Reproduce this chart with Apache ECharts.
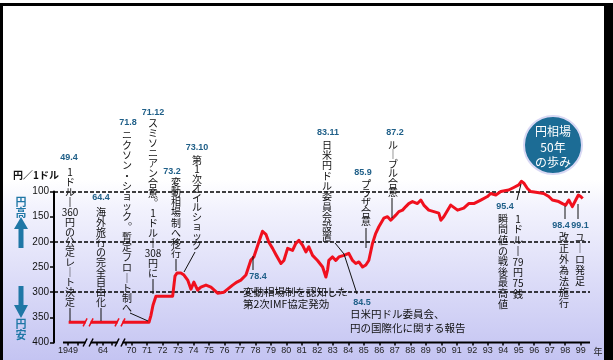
<!DOCTYPE html>
<html>
<head>
<meta charset="utf-8">
<script src="https://cdn.jsdelivr.net/npm/echarts@6/dist/echarts.min.js"></script>
<style>
html,body{margin:0;padding:0;background:#fff;}
#chart{width:613px;height:360px;}
</style>
</head>
<body>
<div id="chart"></div>
<script>
// Yen per dollar, 1949 - 1999 (decimal year, yen)
const rateYears = [
  1949.3, 1971.13, 1971.26, 1971.39, 1971.58, 1972.66, 1972.81, 1972.94, 1973.19, 1973.39,
  1973.63, 1973.84, 1974.03, 1974.27, 1974.48, 1974.81, 1975.13, 1975.56, 1975.97, 1976.29,
  1976.53, 1976.81, 1977.06, 1977.39, 1977.71, 1977.90, 1978.23, 1978.46, 1978.68, 1978.87,
  1979.11, 1979.32, 1979.65, 1979.84, 1980.08, 1980.40, 1980.61, 1980.81, 1981.05, 1981.26,
  1981.45, 1981.69, 1982.01, 1982.34, 1982.55, 1982.66, 1982.74, 1982.98, 1983.19, 1983.39,
  1983.71, 1984.03, 1984.27, 1984.48, 1984.68, 1984.92, 1985.13, 1985.32, 1985.56, 1985.77,
  1985.97, 1986.29, 1986.53, 1986.74, 1987.06, 1987.26, 1987.50, 1987.71, 1987.90, 1988.14,
  1988.46, 1988.68, 1988.87, 1989.19, 1989.52, 1989.84, 1989.97, 1990.16, 1990.61, 1991.05,
  1991.45, 1991.77, 1992.10, 1992.55, 1992.98, 1993.19, 1993.52, 1993.84, 1994.35, 1994.68,
  1995.00, 1995.17, 1995.32, 1995.56, 1995.77, 1996.21, 1996.61, 1996.94, 1997.17, 1997.58,
  1997.82, 1998.03, 1998.23, 1998.46, 1998.68, 1998.85, 1999.00, 1999.13
];
const rateValues = [
  360, 360, 346, 326, 308, 308, 268, 262, 262, 266,
  276, 294, 280, 296, 290, 286, 290, 302, 300, 292,
  286, 280, 276, 266, 236, 230, 200, 179, 185, 201,
  213, 225, 243, 237, 213, 217, 203, 197, 207, 220,
  210, 227, 237, 250, 270, 256, 237, 230, 237, 230,
  227, 223, 237, 243, 240, 250, 246, 237, 203, 183,
  170, 153, 150, 157, 147, 140, 137, 130, 124, 120,
  124, 117, 127, 137, 140, 143, 157, 150, 127, 137,
  133, 124, 124, 117, 110, 104, 107, 100, 97, 92,
  87, 79.75, 83, 94, 100, 102, 104, 110, 117, 120,
  124, 127, 117, 130, 117, 107, 110, 114
];

// x-axis ticks (years) and their labels
const tickYears = [1949, 1964, 1970, 1971, 1972, 1973, 1974, 1975, 1976, 1977, 1978, 1979, 1980,
  1981, 1982, 1983, 1984, 1985, 1986, 1987, 1988, 1989, 1990, 1991, 1992, 1993, 1994, 1995,
  1996, 1997, 1998, 1999];
const tickLabels = ['1949', '64', '70', '71', '72', '73', '74', '75', '76', '77', '78', '79', '80',
  '81', '82', '83', '84', '85', '86', '87', '88', '89', '90', '91', '92', '93', '94', '95',
  '96', '97', '98', '99'];
const guideLevels = [100, 200, 300];

// The years before 1970 are squeezed onto a short stretch of the axis.
function axisPos(year) {
  if (year >= 1970) return year - 1900;
  if (year >= 1964) return 68.17 + (year - 1964) * (70 - 68.17) / 6;
  return 65.9 + (year - 1949) * (68.17 - 65.9) / 15;
}
const breakPos = [67.2, 69.26];
const extraTickPos = [66.55, 67.75, 68.75, 69.65];

const tickPos = tickYears.map(axisPos);
const labelMap = {};
tickPos.forEach((p, i) => { labelMap[p.toFixed(2)] = tickLabels[i]; });

const JP = '"Noto Sans CJK JP", "Noto Sans", sans-serif';
const NUM = '"Liberation Sans Narrow", "Liberation Sans", Arial, sans-serif';
const BLUE = '#1f77a6';
const DATE = '#1f5f88';

const chart = echarts.init(document.getElementById('chart'), null, {renderer: 'canvas'});

chart.setOption({
  animation: false,
  grid: {left: 54, right: 23, top: 191.5, bottom: 17.5},
  xAxis: {
    type: 'value', min: 65, max: 99.6,
    axisLine: {show: false},
    splitLine: {show: false},
    axisTick: {show: true, customValues: tickPos.concat(extraTickPos), length: 3,
      lineStyle: {color: '#000', width: 1.5}},
    axisLabel: {customValues: tickPos, formatter: v => labelMap[(+v).toFixed(2)] || '',
      fontSize: 9, color: '#222', margin: 4, fontFamily: NUM}
  },
  yAxis: {
    type: 'value', inverse: true, min: 100, max: 400, interval: 50,
    axisLine: {show: true, lineStyle: {color: '#000', width: 2}},
    axisTick: {show: true, length: 4, lineStyle: {color: '#000', width: 1.5}},
    axisLabel: {fontSize: 10, color: '#111', margin: 5, fontFamily: NUM},
    splitLine: {show: false}
  },
  series: [{
    type: 'line',
    data: rateYears.map((y, i) => [axisPos(y), rateValues[i]]),
    symbol: 'none', clip: false, z: 5,
    lineStyle: {color: '#f0101e', width: 3, join: 'round'},
    markLine: {
      silent: true, symbol: ['none', 'none'], label: {show: false},
      lineStyle: {color: '#000', type: [4, 2], width: 1.5},
      data: guideLevels.map(v => ({yAxis: v}))
    }
  }]
});

// annotation layout (pixels)
const notes = [
  {date: '49.4', dx: 69, dy: 158, cols: [{x: 70, y: 172, step: 10,
    cells: ['1','ド','ル','‖','360','円','の','公','定','レ','｜','ト','決','定']}], leader: [70, 308, 70, 321]},
  {date: '64.4', dx: 101, dy: 198, cols: [{x: 101, y: 212, step: 10,
    cells: ['海','外','旅','行','の','完','全','自','由','化']}], leader: [101, 308, 101, 321]},
  {date: '71.8', dx: 128, dy: 123, cols: [{x: 127, y: 135, step: 10.2,
    cells: ['ニ','ク','ソ','ン','・','シ','ョ','ッ','ク','︒','暫','定','フ','ロ','｜','ト','制','へ']}], leader: [130, 313, 148, 321]},
  {date: '71.12', dx: 153, dy: 113, cols: [{x: 153, y: 123, step: 10,
    cells: ['ス','ミ','ソ','ニ','ア','ン','合','意','︒','1','ド','ル','‖','308','円','に']}], leader: [153, 279, 153, 294]},
  {date: '73.2', dx: 172, dy: 172, cols: [{x: 176, y: 182, step: 10.2,
    cells: ['変','動','相','場','制','へ','移','行']}], leader: [176, 259, 176, 271]},
  {date: '73.10', dx: 197, dy: 148, cols: [{x: 197, y: 160, step: 9.5,
    cells: ['第','1','次','オ','イ','ル','シ','ョ','ッ','ク']}], leader: [195, 252, 184, 272]},
  {date: '83.11', dx: 328, dy: 133, cols: [{x: 327, y: 145, step: 10.3,
    cells: ['日','米','円','ド','ル','委','員','会','設','置']}], leader: [335, 243, 344, 254]},
  {date: '85.9', dx: 363, dy: 173, cols: [{x: 366, y: 184, step: 9.3,
    cells: ['プ','ラ','ザ','合','意']}], leader: [366, 228, 366, 248]},
  {date: '87.2', dx: 395, dy: 133, cols: [{x: 393, y: 145, step: 9.5,
    cells: ['ル','｜','ブ','ル','合','意']}], leader: [392, 198, 392, 218]},
  {date: '95.4', dx: 505, dy: 207, cols: [
    {x: 503, y: 219, step: 10.6, cells: ['瞬','間','値','の','戦','後','最','高','値']},
    {x: 518, y: 219, step: 10.7, cells: ['1','ド','ル','‖','79','円','75','銭']}], leader: [517, 200, 521, 184]},
  {date: '98.4', dx: 561, dy: 226, cols: [{x: 564, y: 237, step: 11,
    cells: ['改','正','外','為','法','施','行']}], leader: [565, 206, 565, 219]},
  {date: '99.1', dx: 580, dy: 226, cols: [{x: 580, y: 237, step: 11,
    cells: ['ユ','｜','ロ','発','足']}], leader: [578, 204, 578, 219]}
];
const flatNotes = [
  {date: '78.4', dx: 258, dy: 277, x: 243, lines: ['変動相場制を認知した', '第2次IMF協定発効'], ly: [292, 304], leader: [253, 256, 253, 270]},
  {date: '84.5', dx: 362, dy: 303, x: 350, lines: ['日米円ドル委員会、', '円の国際化に関する報告'], ly: [314, 328], leader: [344, 254, 357, 294]}
];

const W = 613, H = 360;
const els = [];

// panel background and frame
els.push({type: 'rect', z: -100, silent: true, shape: {x: 0, y: 0, width: W, height: H},
  style: {fill: new echarts.graphic.LinearGradient(0, 0, 0, 1, [
    {offset: 0, color: '#ffffff'}, {offset: 0.5, color: '#ffffff'},
    {offset: 0.58, color: '#f2f2fd'}, {offset: 1, color: '#c4c4f2'}])}});
els.push({type: 'rect', z: 50, silent: true, shape: {x: 0, y: 3, width: 610, height: 3}, style: {fill: '#000'}});
els.push({type: 'rect', z: 50, silent: true, shape: {x: 0, y: 3, width: 3, height: H}, style: {fill: '#000'}});
els.push({type: 'rect', z: 50, silent: true, shape: {x: 604, y: 3, width: 9, height: H}, style: {fill: '#000'}});

// x axis base line
const axY = chart.convertToPixel({yAxisIndex: 0}, 400);
const axX0 = chart.convertToPixel({xAxisIndex: 0}, 65.58);
const axX1 = chart.convertToPixel({xAxisIndex: 0}, 99.6);
els.push({type: 'line', z: 10, silent: true, shape: {x1: axX0, y1: axY, x2: axX1, y2: axY},
  style: {stroke: '#000', lineWidth: 2}});

// break marks on the axis and on the flat 360-yen line
const lineY = chart.convertToPixel({yAxisIndex: 0}, rateValues[0]);
breakPos.forEach(p => {
  const bx = chart.convertToPixel({xAxisIndex: 0}, p);
  [[lineY, '#f0101e', '#d9d9f9'], [axY, '#000', '#cfcff6']].forEach(([by, col, bg]) => {
    els.push({type: 'rect', z: 20, silent: true, shape: {x: bx - 2.5, y: by - 3, width: 5, height: 6}, style: {fill: bg}});
    els.push({type: 'line', z: 21, silent: true, shape: {x1: bx - 5, y1: by + 4, x2: bx - 1, y2: by - 4}, style: {stroke: col, lineWidth: 1.5}});
    els.push({type: 'line', z: 21, silent: true, shape: {x1: bx + 1, y1: by + 4, x2: bx + 5, y2: by - 4}, style: {stroke: col, lineWidth: 1.5}});
  });
});

// vertical annotations
notes.forEach(n => {
  els.push({type: 'text', z: 30, silent: true, style: {x: n.dx, y: n.dy, text: n.date, fill: DATE,
    fontSize: 9, fontWeight: 'bold', fontFamily: NUM, align: 'center', verticalAlign: 'middle'}});
  n.cols.forEach(c => {
    els.push({type: 'text', z: 30, silent: true, style: {x: c.x, y: c.y - c.step / 2, text: c.cells.join('\n'),
      fill: '#111', fontSize: 10, lineHeight: c.step, fontFamily: JP, align: 'center', verticalAlign: 'top'}});
  });
  const L = n.leader;
  els.push({type: 'line', z: 30, silent: true, shape: {x1: L[0], y1: L[1], x2: L[2], y2: L[3]}, style: {stroke: '#111', lineWidth: 1}});
});
// horizontal annotations
flatNotes.forEach(n => {
  els.push({type: 'text', z: 30, silent: true, style: {x: n.dx, y: n.dy, text: n.date, fill: DATE,
    fontSize: 9, fontWeight: 'bold', fontFamily: NUM, align: 'center', verticalAlign: 'middle'}});
  n.lines.forEach((t, i) => {
    els.push({type: 'text', z: 30, silent: true, style: {x: n.x, y: n.ly[i], text: t, fill: '#111',
      fontSize: 10.5, fontFamily: JP, align: 'left', verticalAlign: 'middle'}});
  });
  const L = n.leader;
  els.push({type: 'line', z: 30, silent: true, shape: {x1: L[0], y1: L[1], x2: L[2], y2: L[3]}, style: {stroke: '#111', lineWidth: 1}});
});

// unit caption, direction markers, year suffix
els.push({type: 'text', z: 30, silent: true, style: {x: 13, y: 175, text: '円／1ドル', fill: '#111',
  fontSize: 10, fontWeight: 'bold', fontFamily: JP, align: 'left', verticalAlign: 'middle'}});
els.push({type: 'text', z: 30, silent: true, style: {x: 21, y: 196, text: '円\n高', fill: BLUE,
  fontSize: 11, lineHeight: 11, fontWeight: 'bold', fontFamily: JP, align: 'center', verticalAlign: 'top'}});
els.push({type: 'text', z: 30, silent: true, style: {x: 21, y: 318, text: '円\n安', fill: BLUE,
  fontSize: 11, lineHeight: 11, fontWeight: 'bold', fontFamily: JP, align: 'center', verticalAlign: 'top'}});
els.push({type: 'polygon', z: 30, silent: true, shape: {points: [[21, 217], [28, 229], [23.5, 229], [23.5, 248], [18.5, 248], [18.5, 229], [14, 229]]}, style: {fill: BLUE}});
els.push({type: 'polygon', z: 30, silent: true, shape: {points: [[21, 318], [28, 305], [23.5, 305], [23.5, 286], [18.5, 286], [18.5, 305], [14, 305]]}, style: {fill: BLUE}});
els.push({type: 'text', z: 30, silent: true, style: {x: 598, y: 352, text: '年', fill: '#222',
  fontSize: 9, fontFamily: JP, align: 'center', verticalAlign: 'middle'}});

// badge
els.push({type: 'circle', z: 30, silent: true, shape: {cx: 553, cy: 145, r: 29},
  style: {fill: '#1c6c95', stroke: '#d8d8f4', lineWidth: 2}});
els.push({type: 'text', z: 31, silent: true, style: {x: 553, y: 147, text: '円相場\n50年\nの歩み', fill: '#fff',
  fontSize: 12, lineHeight: 15.5, fontFamily: JP, align: 'center', verticalAlign: 'middle'}});

chart.setOption({graphic: {elements: els}});
</script>
</body>
</html>
